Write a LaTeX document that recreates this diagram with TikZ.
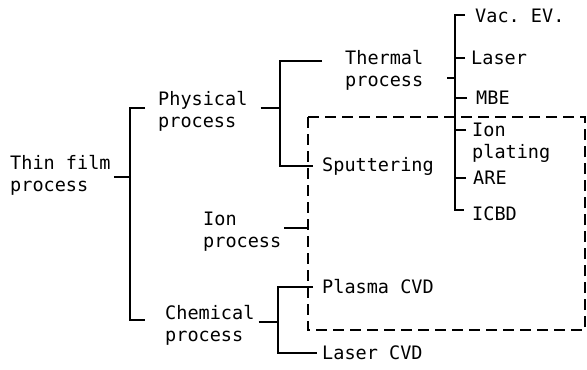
\documentclass[tikz,border=0pt]{standalone}
\usepackage{fontspec}
\setmonofont{DejaVu Sans Mono}
\begin{document}
\begin{tikzpicture}[x=1bp,y=-1bp,
  lbl/.style={anchor=west,inner sep=0pt,align=left,font=\ttfamily\fontsize{18.6}{22}\selectfont},
  br/.style={line width=1.8bp},
  dbox/.style={line width=1.8bp,dash pattern=on 11bp off 6bp}]
\useasboundingbox (0,0) rectangle (587,369);
% nodes
\node[lbl] (tf) at (10,175) {Thin film\\process};
\node[lbl] (phys) at (158,111) {Physical\\process};
\node[lbl] (therm) at (345,70) {Thermal\\process};
\node[lbl] (sput) at (322,166) {Sputtering};
\node[lbl] (ion) at (203,232) {Ion\\process};
\node[lbl] (chem) at (165,325) {Chemical\\process};
\node[lbl] (plasma) at (322,287) {Plasma CVD};
\node[lbl] (lcvd) at (322,353) {Laser CVD};
\node[lbl] (vac) at (475,16) {Vac. EV.};
\node[lbl] (laser) at (471,58) {Laser};
\node[lbl] (mbe) at (476,98) {MBE};
\node[lbl] (ionpl) at (472,143) {Ion\\plating};
\node[lbl] (are) at (473,178) {ARE};
\node[lbl] (icbd) at (472,214) {ICBD};
% spine positions
\coordinate (s1) at (130,0);
\coordinate (s2) at (280,0);
\coordinate (s3) at (455,0);
\coordinate (s4) at (278,0);
% thin film bracket
\draw[br] ([xshift=3bp]tf.east |- 0,177) -- (s1 |- 0,177);
\draw[br] ([xshift=-13bp]phys.west |- 0,108) -- (s1 |- 0,108) -- (s1 |- 0,320) -- ([xshift=-20bp]chem.west |- 0,320);
% physical bracket
\draw[br] ([xshift=13bp]phys.east |- 0,108) -- (s2 |- 0,108);
\draw[br] ([xshift=-23bp]therm.west |- 0,61) -- (s2 |- 0,61) -- (s2 |- sput) -- ([xshift=-9bp]sput.west);
% thermal bracket
\draw[br] ([xshift=-8bp]s3 |- 0,78) -- (s3 |- 0,78);
\draw[br] ([xshift=-10bp]vac.west |- 0,15) -- (s3 |- 0,15) -- (s3 |- 0,210) -- ([xshift=-8bp]icbd.west |- 0,210);
\draw[br] ([xshift=-6bp]laser.west) -- (s3 |- laser);
\draw[br] ([xshift=-9bp]mbe.west) -- (s3 |- mbe);
\draw[br] ([xshift=-6bp]ionpl.west |- 0,130) -- (s3 |- 0,130);
\draw[br] ([xshift=-7bp]are.west) -- (s3 |- are);
% ion process
\draw[br] ([xshift=3bp]ion.east |- 0,228) -- (308,228);
% chemical bracket
\draw[br] ([xshift=4bp]chem.east |- 0,322) -- (s4 |- 0,322);
\draw[br] ([xshift=-9bp]plasma.west) -- (s4 |- plasma) -- (s4 |- lcvd) -- ([xshift=-5bp]lcvd.west);
% dashed box
\draw[dbox] (308,117) rectangle (585,330);
\end{tikzpicture}
\end{document}
